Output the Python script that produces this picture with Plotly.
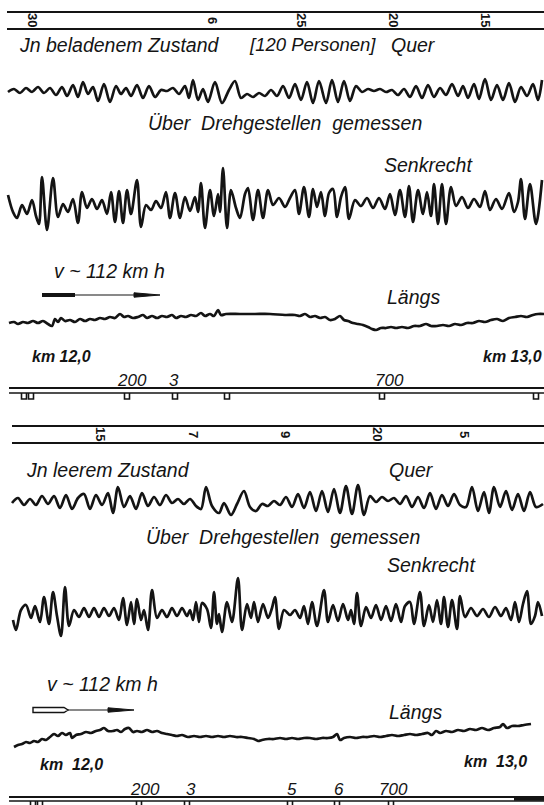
import plotly.graph_objects as go

W, H = 544, 805

# ---------------- data: oscillogram traces (x along track, deflection up = +) -------------
quer_beladen = [(8,0),(14,3),(20,-1),(26,4),(32,0),(38,5),(44,-1),(50,4),(56,-3),(62,5),(67,-4),
    (73,7),(78,-5),(83,10),(88,-2),(93,5),(98,-9),(104,8),(110,-10),(116,6),(121,-2),(126,4),
    (131,-4),(137,7),(143,-6),(149,6),(155,-5),(161,2),(167,1),(173,4),(179,-2),(185,6),(189,-6),
    (193,12),(198,-8),(203,3),(208,-10),(215,10),(222,-11),(229,2),(235,11),(241,-6),(247,-2),
    (253,-5),(259,-1),(265,-4),(271,2),(277,-4),(283,6),(289,-6),(295,8),(301,-8),(307,10),
    (313,-11),(319,11),(326,-11),(332,12),(338,-10),(344,11),(350,-9),(356,6),(362,0),(368,3),
    (374,1),(380,3),(386,0),(392,2),(398,-3),(404,3),(410,-5),(416,6),(422,-6),(428,7),(434,-5),
    (440,4),(446,-3),(452,8),(458,-4),(463,6),(468,-6),(474,8),(479,-7),(485,13),(491,-8),(497,7),
    (503,-8),(509,9),(515,-10),(521,5),(527,-4),(533,8),(538,-8),(542,12)]

senk_beladen = [(8,7),(13,-10),(17,-16),(22,-3),(27,-12),(32,2),(36,-14),(39,-22),(42,25),(47,-28),
    (53,24),(58,-15),(63,-2),(68,-10),(73,3),(78,-21),(82,10),(87,-6),(92,3),(97,-7),(102,2),
    (107,-12),(111,10),(115,-20),(119,11),(123,-21),(127,12),(131,-12),(137,22),(141,-25),(146,-3),
    (151,-8),(156,1),(161,-6),(166,10),(170,-16),(175,9),(180,-16),(185,5),(190,-9),(195,5),
    (198,-10),(201,19),(205,-26),(210,12),(214,-14),(218,8),(220,-10),(223,34),(227,-26),(231,12),
    (236,-6),(240,-16),(245,8),(248,14),(253,-18),(258,12),(263,-16),(268,12),(273,-3),(279,4),
    (285,-5),(290,4),(295,12),(299,-12),(304,15),(309,-15),(313,13),(317,-5),(321,10),(325,-14),
    (329,9),(333,13),(337,-15),(341,5),(345,15),(349,-17),(355,2),(361,-4),(367,4),(373,-6),
    (379,4),(385,-7),(390,8),(395,-13),(400,12),(405,-15),(409,16),(413,-20),(418,12),(423,-12),
    (427,10),(431,-14),(434,18),(438,-22),(442,18),(446,-22),(451,15),(456,-4),(462,5),(468,-6),
    (474,3),(480,-5),(485,11),(490,-8),(496,3),(502,-7),(509,9),(514,-10),(518,0),(521,23),
    (525,-17),(530,18),(536,-22),(542,22)]

laengs_beladen = [(9,-3),(14,-2),(18,-4),(23,-2),(28,-3),(33,-1),(38,-3),(43,-1),(48,-4),(52,-6),
    (55,1),(58,-2),(61,2),(65,-1),(70,0),(75,-2),(80,1),(85,-1),(90,1),(95,0),(100,2),(105,1),
    (110,3),(115,2),(120,6),(124,3),(128,4),(133,2),(138,3),(143,5),(147,2),(152,4),(157,2),
    (162,4),(167,3),(172,5),(176,2),(181,4),(186,3),(191,5),(196,4),(201,7),(205,4),(210,6),
    (214,4),(218,10),(221,5),(226,6),(240,6),(255,6),(270,6),(285,5),(295,5),(300,4),(305,6),
    (310,3),(315,4),(320,2),(325,3),(330,0),(335,1),(340,4),(344,0),(348,-1),(353,-3),(358,-4),
    (363,-5),(368,-7),(372,-9),(376,-10),(381,-8),(386,-8),(391,-7),(396,-8),(402,-7),(408,-8),
    (414,-6),(420,-6),(426,-4),(431,-6),(437,-6),(443,-5),(449,-6),(455,-4),(461,-5),(467,-3),
    (473,-3),(479,-1),(485,-2),(491,0),(497,1),(503,-1),(509,2),(515,3),(521,4),(527,3),(533,5),
    (538,6),(544,6)]

quer_leer = [(12,-2),(18,3),(24,-4),(30,2),(36,-4),(42,5),(48,-3),(54,5),(60,-7),(66,6),(72,-8),
    (78,3),(84,7),(90,-8),(96,6),(102,-4),(108,8),(113,-12),(118,14),(124,-6),(130,5),(136,-8),
    (142,8),(148,-5),(154,4),(160,-4),(166,6),(172,-2),(178,2),(184,-3),(190,2),(196,-5),(201,-8),
    (206,14),(212,-5),(219,-12),(224,-2),(231,-14),(237,-3),(244,10),(250,-6),(256,-10),(262,-3),
    (268,-5),(274,0),(280,-4),(286,4),(292,-6),(298,7),(304,-7),(310,9),(316,-10),(322,10),
    (328,-11),(334,12),(340,-12),(346,15),(352,-13),(358,16),(364,-14),(370,5),(376,-1),(382,4),
    (388,0),(394,3),(400,-3),(406,5),(412,-6),(418,4),(424,-7),(430,8),(436,-8),(442,6),(448,-5),
    (454,7),(460,-4),(466,-6),(472,14),(478,-10),(484,9),(489,-12),(494,14),(500,-6),(506,10),
    (512,-9),(518,7),(524,-10),(530,9),(536,-6),(543,-3)]

senk_leer = [(13,-8),(16,-18),(21,2),(26,7),(31,-6),(35,6),(40,-10),(44,15),(49,-12),(53,20),
    (57,-4),(61,-24),(65,25),(69,-14),(74,2),(79,-5),(84,4),(89,-5),(94,4),(99,-5),(104,4),
    (109,-4),(114,4),(119,-8),(123,14),(127,-13),(131,10),(134,-12),(137,13),(141,-8),(144,2),
    (148,-18),(152,22),(157,-6),(162,2),(167,-5),(172,4),(177,-4),(182,4),(187,-4),(190,2),
    (193,-8),(196,10),(199,-10),(202,9),(207,3),(211,-16),(214,20),(217,-12),(219,-2),(222,-20),
    (227,10),(232,-10),(238,34),(242,-18),(247,8),(251,-6),(254,10),(258,-10),(263,8),(268,-6),
    (272,4),(275,15),(279,-17),(284,2),(290,-3),(295,2),(300,-6),(304,6),(308,-12),(312,10),
    (317,-14),(324,22),(328,-10),(333,7),(338,-9),(343,8),(348,-8),(351,2),(354,-12),(357,19),
    (361,-14),(366,5),(371,-6),(376,7),(381,-8),(386,6),(391,-9),(396,8),(401,-10),(405,6),
    (410,10),(414,-12),(420,20),(424,-14),(429,7),(433,-10),(437,12),(441,-12),(444,15),(448,-15),
    (452,12),(457,-17),(460,16),(465,-5),(471,4),(477,-4),(483,3),(489,-5),(495,5),(501,-4),
    (506,4),(511,-8),(515,10),(519,-10),(523,8),(527,21),(531,-12),(535,-4),(538,10),(542,-4)]

laengs_leer = [(14,-11),(18,-9),(22,-8),(26,-6),(30,-7),(34,-5),(38,-6),(42,-3),(46,-4),(50,-1),
    (54,2),(58,0),(62,3),(66,1),(70,3),(72,-2),(76,1),(81,2),(86,4),(91,3),(96,5),(100,6),(104,8),
    (108,5),(113,5),(117,6),(121,4),(125,7),(129,8),(133,4),(137,5),(142,4),(147,6),(152,4),
    (157,5),(162,3),(167,2),(172,1),(177,0),(182,1),(188,-1),(194,0),(200,-1),(206,0),(212,-1),
    (218,0),(224,-1),(230,0),(236,-1),(242,-1),(248,-2),(254,-3),(258,-5),(262,-4),(268,-3),
    (274,-3),(280,-2),(286,-3),(292,-2),(298,-3),(304,-2),(310,-2),(316,-3),(322,-2),(328,-2),
    (333,-1),(337,2),(340,-4),(344,-2),(350,-1),(356,-2),(362,-1),(368,-1),(374,0),(380,-1),
    (386,0),(392,1),(398,0),(404,1),(410,2),(416,1),(422,2),(428,3),(432,1),(436,5),(440,3),
    (446,5),(452,4),(458,6),(464,5),(470,7),(476,6),(482,8),(488,6),(494,8),(500,9),(503,12),
    (507,8),(512,10),(518,10),(524,11),(531,12)]

# ---------------- marker tracks: rotated digits and kilometre notches -----------------------
top_digits_beladen = [("30", 33), ("6", 213), ("25", 302), ("20", 394), ("15", 486)]
top_digits_leer = [("15", 101), ("7", 194), ("9", 286), ("20", 378), ("5", 465)]
notches_beladen = [24, 31, 127, 175, 227, 382, 536]
notches_leer = [33, 40, 139, 187, 290, 337, 391]
labels_beladen = [("200", 115), ("3", 167), ("700", 373)]
labels_leer = [("200", 128), ("3", 184), ("5", 285), ("6", 332), ("700", 377)]

# ---------------- layout of the bands (pixel centre, half height) ---------------------------
bands = [
    (quer_beladen, 92, 15), (senk_beladen, 202, 36), (laengs_beladen, 320, 14),
    (quer_leer, 501, 18), (senk_leer, 612, 36), (laengs_leer, 736, 14),
]

INK = "#141414"
FONT = "Liberation Sans"


def P(py):
    return 1 - py / H


fig = go.Figure()
axes = {}
for i, (pts, c, h) in enumerate(bands, start=1):
    ya = "y" if i == 1 else f"y{i}"
    fig.add_trace(go.Scatter(
        x=[p[0] for p in pts], y=[p[1] for p in pts], mode="lines", yaxis=ya,
        line=dict(color=INK, width=2.7, shape="spline", smoothing=0.9),
        hoverinfo="skip", showlegend=False))
    key = "yaxis" if i == 1 else f"yaxis{i}"
    axes[key] = dict(domain=[P(c + h), P(c - h)], range=[-h, h], visible=False,
                     fixedrange=True, anchor="x")

ann = []


def txt(s, x, y, size=19.5, bold=False, angle=0):
    ann.append(dict(text=s, x=x, y=P(y), xref="x", yref="paper", xanchor="left",
                    yanchor="middle", showarrow=False, textangle=angle,
                    font=dict(family=FONT, size=size, color=INK, style="italic",
                              weight="bold" if bold else "normal")))


def dig(s, x, y):
    ann.append(dict(text=s, x=x, y=P(y), xref="x", yref="paper", xanchor="center",
                    yanchor="middle", showarrow=False, textangle=90,
                    font=dict(family=FONT, size=13, color=INK, weight="bold")))


shapes = []


def hline(x0, x1, y, w=2.0):
    shapes.append(dict(type="line", xref="x", yref="paper", x0=x0, x1=x1, y0=P(y), y1=P(y),
                       line=dict(color=INK, width=w)))


def notch(x, y0, y1):
    shapes.append(dict(type="path", xref="x", yref="paper",
                       path=f"M {x-2.5},{P(y0)} L {x-2.5},{P(y1)} L {x+2.5},{P(y1)} L {x+2.5},{P(y0)}",
                       line=dict(color=INK, width=1.6)))


def arrow(x0, xb, xh, x1, y, hollow):
    if hollow:
        shapes.append(dict(type="path", xref="x", yref="paper",
                           path=f"M {x0},{P(y-2.5)} L {xb-4},{P(y-2.5)} L {xb},{P(y)} L {xb-4},{P(y+2.5)} L {x0},{P(y+2.5)} Z",
                           line=dict(color=INK, width=1.4), fillcolor="white"))
    else:
        shapes.append(dict(type="line", xref="x", yref="paper", x0=x0, x1=xb, y0=P(y), y1=P(y),
                           line=dict(color=INK, width=4)))
    hline(xb, xh, y, 1.2)
    shapes.append(dict(type="path", xref="x", yref="paper",
                       path=f"M {xh},{P(y-2.2)} L {x1},{P(y)} L {xh},{P(y+2.2)} Z",
                       line=dict(color=INK, width=1), fillcolor=INK))


# ---- panel 1 : beladen ----
hline(7, 544, 12)
hline(7, 544, 29)
for s, x in top_digits_beladen:
    dig(s, x, 20)
txt("Jn beladenem Zustand", 17, 45)
txt("[120 Personen]", 247, 45, size=18.5)
txt("Quer", 389, 45)
txt("Über  Drehgestellen  gemessen", 146, 123)
txt("Senkrecht", 382, 165)
txt("v ~ 112 km h", 52, 271)
arrow(42, 75, 134, 160, 295, hollow=False)
txt("Längs", 385, 297)
txt("km 12,0", 30, 356, size=16, bold=True)
txt("km 13,0", 481, 356, size=16, bold=True)
for s, x in labels_beladen:
    txt(s, x, 380, size=17)
hline(9, 544, 388, 2.2)
hline(9, 544, 393, 1.6)
for x in notches_beladen:
    notch(x, 393, 399)

# ---- panel 2 : leer ----
hline(12, 544, 426)
hline(12, 544, 443)
for s, x in top_digits_leer:
    dig(s, x, 434)
txt("Jn leerem Zustand", 24, 470)
txt("Quer", 387, 470)
txt("Über  Drehgestellen  gemessen", 144, 537)
txt("Senkrecht", 385, 565)
txt("v ~ 112 km h", 45, 684)
arrow(33, 68, 108, 134, 710, hollow=True)
txt("Längs", 387, 712)
txt("km  12,0", 38, 764, size=16, bold=True)
txt("km  13,0", 462, 761, size=16, bold=True)
for s, x in labels_leer:
    txt(s, x, 789, size=17)
hline(9, 544, 797, 2.2)
hline(9, 544, 801, 1.6)
hline(514, 544, 799, 3.5)
for x in notches_leer:
    notch(x, 801, 807)

fig.update_layout(
    width=W, height=H, margin=dict(l=0, r=0, t=0, b=0),
    paper_bgcolor="white", plot_bgcolor="white", showlegend=False,
    xaxis=dict(range=[0, W], visible=False, fixedrange=True),
    annotations=ann, shapes=shapes, **axes)

fig.write_html("out.html", config={"displayModeBar": False, "staticPlot": True},
               post_script="document.body.style.margin='0px';document.body.style.overflow='hidden';")
